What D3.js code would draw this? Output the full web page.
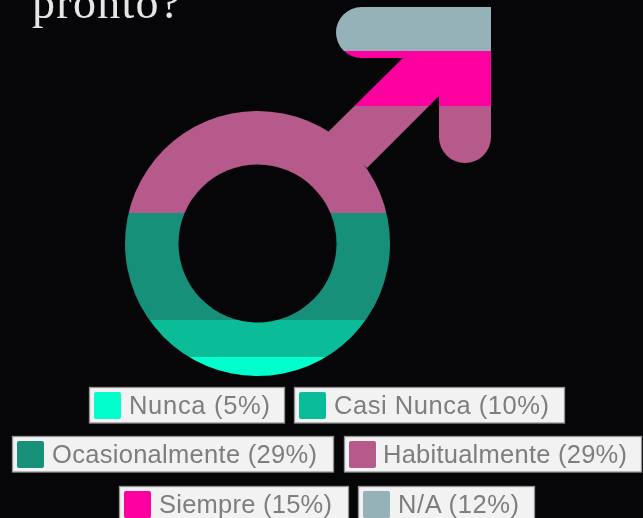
<!DOCTYPE html>
<html><head><meta charset="utf-8">
<script src="https://cdn.jsdelivr.net/npm/d3@7"></script>
<style>html,body{margin:0;padding:0;background:#060609;overflow:hidden}svg{display:block}</style>
</head><body><svg id="c" width="643" height="518"></svg>
<script>
const categories = ["Nunca","Casi Nunca","Ocasionalmente","Habitualmente","Siempre","N/A"];
const values = [5,10,29,29,15,12];
const colors = ["#00ffcc","#0abd98","#169078","#b55a8a","#ff00a0","#94b2b8"];
const legendRows = [[0,1],[2,3],[4,5]];
const legendBoxX = [[89,294],[12,344],[119,358]];
const legendBoxW = [[196,271],[322,298],[230,177]];
const legendBoxY = [387,436,486];
const legendTextX = [[40,40],[40,39],[40,40]];
const legendTextW = [[141,215],[265,244],[173,121]];

const svg = d3.select("#c");
const y = d3.scaleLinear().domain([0,100]).rangeRound([375.5,7]);
const stacked = d3.cumsum(values);

const defs = svg.append("defs");
const mask = defs.append("mask").attr("id","mars").attr("maskUnits","userSpaceOnUse")
  .attr("x",0).attr("y",0).attr("width",643).attr("height",518);
mask.append("circle").attr("cx",257.5).attr("cy",243.5).attr("r",132.5).attr("fill","#fff");
mask.append("path").attr("fill","#fff")
  .attr("d","M328,132L403,58H361.5A25.5,25.5 0 0 1 361.5,7H491V137A26,26 0 0 1 439,137V96L367,168Z");
mask.append("circle").attr("cx",257.5).attr("cy",243.5).attr("r",79).attr("fill","#000");
const soft = defs.append("filter").attr("id","soft").attr("x","-5%").attr("y","-20%").attr("width","110%").attr("height","140%");
soft.append("feGaussianBlur").attr("stdDeviation",0.3);

svg.append("g").attr("mask","url(#mars)").selectAll("rect").data(values).join("rect")
  .attr("x",100).attr("width",420)
  .attr("y",(d,i)=>y(stacked[i]))
  .attr("height",(d,i)=>y(stacked[i]-d)-y(stacked[i]))
  .attr("fill",(d,i)=>colors[i]);

svg.append("text").attr("x",32).attr("y",18).text("pronto?")
  .attr("font-family","'Liberation Serif',serif").attr("font-size",46)
  .attr("fill","#e6e6e6").attr("letter-spacing",1.3).attr("filter","url(#soft)");

legendRows.forEach((row,r)=>row.forEach((k,c)=>{
  const g = svg.append("g").attr("transform",`translate(${legendBoxX[r][c]},${legendBoxY[r]})`);
  g.append("rect").attr("x",.5).attr("y",.5).attr("width",legendBoxW[r][c]-1).attr("height",35.5)
    .attr("fill","#f2f2f2").attr("stroke","#949494").attr("stroke-width",1.3);
  g.append("rect").attr("x",5).attr("y",5).attr("width",27).attr("height",27).attr("rx",2)
    .attr("fill",colors[k]);
  g.append("text").attr("x",legendTextX[r][c]).attr("y",27).text(`${categories[k]} (${values[k]}%)`)
    .attr("font-family","'Liberation Sans',Arial,sans-serif").attr("font-size",25.5)
    .attr("textLength",legendTextW[r][c]).attr("lengthAdjust","spacing")
    .attr("fill","#7e7e7e").attr("filter","url(#soft)");
}));
</script></body></html>
